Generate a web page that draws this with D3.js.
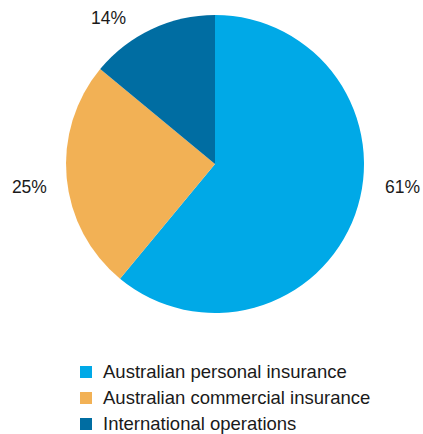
<!DOCTYPE html>
<html>
<head>
<meta charset="utf-8">
<script src="https://cdn.jsdelivr.net/npm/d3@7"></script>
<style>
  html, body { margin: 0; padding: 0; background: #fff; }
  svg text { font-family: "Liberation Sans", Arial, Helvetica, sans-serif; fill: #1a1a1a; }
</style>
</head>
<body>
<svg id="svg" width="423" height="434"></svg>
<script>
// data
var categories = ["Australian personal insurance", "Australian commercial insurance", "International operations"];
var shares = [61, 25, 14];
var sliceColors = ["#00a9e7", "#f2b155", "#006da2"];

// where the % labels sit (degrees clockwise from top, distance from centre)
var labelAngles = [97, 263, 324];
var labelRadii = [189, 187, 181];

var svg = d3.select("#svg");
var cx = 215, cy = 164, radius = 149;

var pie = d3.pie().sort(null).value(function(d) { return d; });
var arc = d3.arc().innerRadius(0).outerRadius(radius);
var arcs = pie(shares);

var g = svg.append("g").attr("transform", "translate(" + cx + "," + cy + ")");

g.selectAll("path.slice")
    .data(arcs)
    .enter().append("path")
    .attr("class", "slice")
    .attr("d", arc)
    .attr("fill", function(d, i) { return sliceColors[i]; });

// percent labels
g.selectAll("text.pct")
    .data(arcs)
    .enter().append("text")
    .attr("class", "pct")
    .attr("x", function(d, i) { return labelRadii[i] * Math.sin(labelAngles[i] * Math.PI / 180); })
    .attr("y", function(d, i) { return -labelRadii[i] * Math.cos(labelAngles[i] * Math.PI / 180); })
    .attr("text-anchor", "middle")
    .attr("dy", "0.35em")
    .style("font-size", "17.5px")
    .text(function(d) { return d.data + "%"; });

// legend
var legendY = d3.scaleBand().domain(categories).range([359, 437]);
var legend = svg.selectAll("g.leg")
    .data(categories)
    .enter().append("g")
    .attr("class", "leg")
    .attr("transform", function(d) { return "translate(80," + (legendY(d) + legendY.bandwidth() / 2) + ")"; });

legend.append("rect")
    .attr("x", 0)
    .attr("y", -6)
    .attr("width", 12)
    .attr("height", 12)
    .attr("fill", function(d, i) { return sliceColors[i]; });

legend.append("text")
    .attr("x", 23)
    .attr("dy", "0.35em")
    .style("font-size", "18.5px")
    .text(function(d) { return d; });
</script>
</body>
</html>
